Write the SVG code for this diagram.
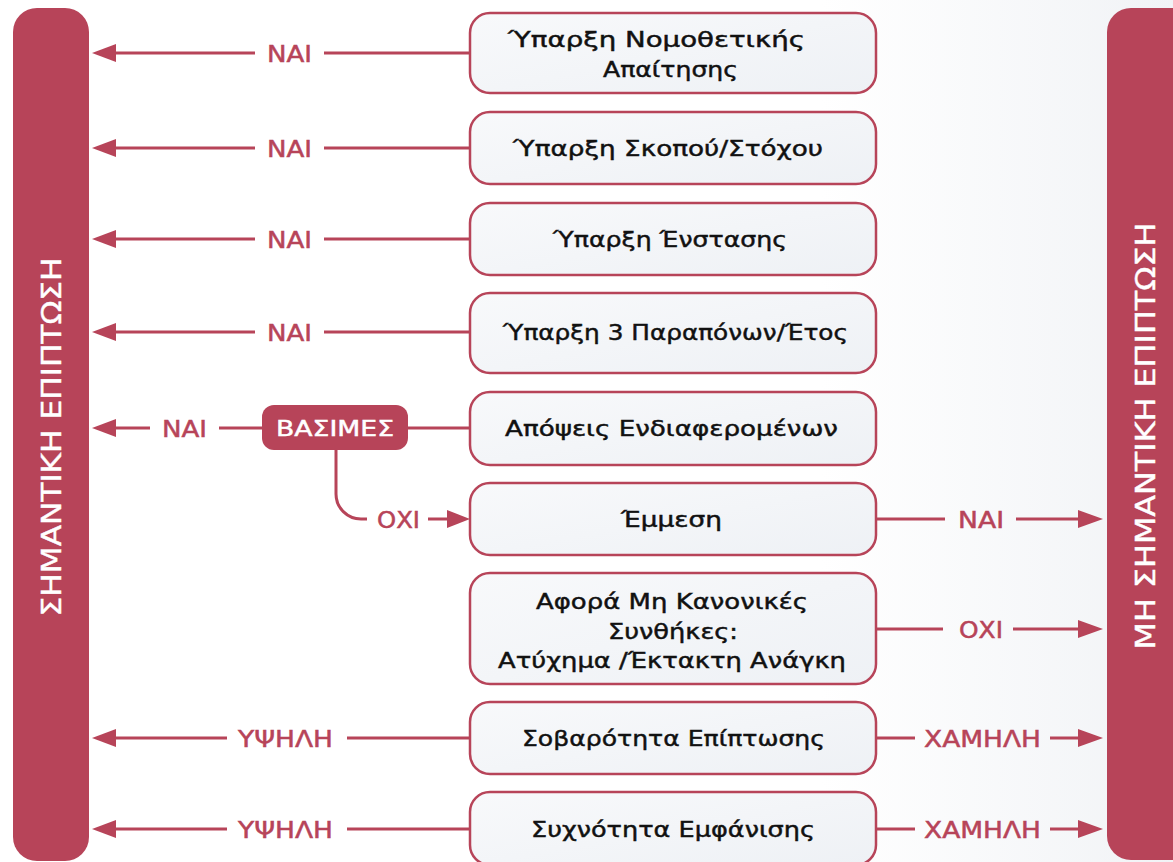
<svg xmlns="http://www.w3.org/2000/svg" width="1173" height="862" viewBox="0 0 1173 862">
  <defs>
    <linearGradient id="bg" x1="0" y1="0" x2="1" y2="0">
      <stop offset="0" stop-color="#ffffff"/>
      <stop offset="0.7" stop-color="#ffffff"/>
      <stop offset="1" stop-color="#f1f3f6"/>
    </linearGradient>
    <linearGradient id="boxfill" x1="0" y1="0" x2="1" y2="1">
      <stop offset="0" stop-color="#f8f9fb"/>
      <stop offset="1" stop-color="#eef1f5"/>
    </linearGradient>
    <style>
      .bar { fill: #b74459; }
      .box { fill: url(#boxfill); stroke: #b74459; stroke-width: 2.5; }
      .bt { font-family: "DejaVu Sans", "Noto Sans", sans-serif; font-size: 21px; fill: #111111; stroke: #111111; stroke-width: 0.45; text-anchor: middle; }
      .lbl { font-family: "DejaVu Sans", "Noto Sans", sans-serif; font-size: 23px; fill: #b74459; stroke: #b74459; stroke-width: 0.5; text-anchor: middle; }
      .vt { font-family: "DejaVu Sans", "Noto Sans", sans-serif; font-size: 26px; fill: #ffffff; stroke: #ffffff; stroke-width: 0.4; text-anchor: middle; }
      .ln { stroke: #b74459; stroke-width: 3; fill: none; }
      .ah { fill: #b74459; }
      .pill { fill: #b74459; }
      .pt { font-family: "DejaVu Sans", "Noto Sans", sans-serif; font-size: 22px; fill: #ffffff; stroke: #ffffff; stroke-width: 0.5; text-anchor: middle; }
    </style>
  </defs>
  <rect x="0" y="0" width="1173" height="862" fill="url(#bg)"/>

  <g id="bar-left">
    <rect class="bar" x="13" y="8" width="76" height="853" rx="24"/>
    <text class="vt" transform="translate(61,437) rotate(-90)" textLength="359" lengthAdjust="spacingAndGlyphs">ΣΗΜΑΝΤΙΚΗ ΕΠΙΠΤΩΣΗ</text>
  </g>
  <g id="bar-right">
    <rect class="bar" x="1107" y="8" width="90" height="852" rx="24"/>
    <text class="vt" transform="translate(1155,436) rotate(-90)" textLength="427" lengthAdjust="spacingAndGlyphs">ΜΗ ΣΗΜΑΝΤΙΚΗ ΕΠΙΠΤΩΣΗ</text>
  </g>

  <g id="connectors">
    <path class="ln" d="M116 53 H255 M324 53 H470"/>
    <polygon class="ah" points="92,53 116,44 116,62"/>
    <text class="lbl" x="289.5" y="61.5" textLength="45" lengthAdjust="spacingAndGlyphs">ΝΑΙ</text>
    <path class="ln" d="M116 148 H255 M324 148 H470"/>
    <polygon class="ah" points="92,148 116,139 116,157"/>
    <text class="lbl" x="289.5" y="156.5" textLength="45" lengthAdjust="spacingAndGlyphs">ΝΑΙ</text>
    <path class="ln" d="M116 239 H255 M324 239 H470"/>
    <polygon class="ah" points="92,239 116,230 116,248"/>
    <text class="lbl" x="289.5" y="247.5" textLength="45" lengthAdjust="spacingAndGlyphs">ΝΑΙ</text>
    <path class="ln" d="M116 332 H255 M324 332 H470"/>
    <polygon class="ah" points="92,332 116,323 116,341"/>
    <text class="lbl" x="289.5" y="340.5" textLength="45" lengthAdjust="spacingAndGlyphs">ΝΑΙ</text>
    <path class="ln" d="M115 428 H150 M219 428 H262 M408 428 H470"/>
    <polygon class="ah" points="92,428 116,419 116,437"/>
    <text class="lbl" x="184.5" y="436.5" textLength="45" lengthAdjust="spacingAndGlyphs">ΝΑΙ</text>
    <path class="ln" d="M336 450 V494 A25 25 0 0 0 361 519 H367 M428 519 H449"/>
    <polygon class="ah" points="470,519 447,510 447,528"/>
    <text class="lbl" x="398.5" y="527.5" textLength="43" lengthAdjust="spacingAndGlyphs">ΟΧΙ</text>
    <path class="ln" d="M876 519 H945 M1016 519 H1080"/>
    <polygon class="ah" points="1103,519 1078,510 1078,528"/>
    <text class="lbl" x="981" y="527.5" textLength="46" lengthAdjust="spacingAndGlyphs">ΝΑΙ</text>
    <path class="ln" d="M876 629 H943 M1013 629 H1080"/>
    <polygon class="ah" points="1103,629 1078,620 1078,638"/>
    <text class="lbl" x="981" y="637.5" textLength="44" lengthAdjust="spacingAndGlyphs">ΟΧΙ</text>
    <path class="ln" d="M116 738 H227 M347 738 H470"/>
    <polygon class="ah" points="92,738 116,729 116,747"/>
    <text class="lbl" x="285.5" y="746.5" textLength="95" lengthAdjust="spacingAndGlyphs">ΥΨΗΛΗ</text>
    <path class="ln" d="M876 738 H915 M1050 738 H1080"/>
    <polygon class="ah" points="1103,738 1078,729 1078,747"/>
    <text class="lbl" x="982.5" y="746.5" textLength="117" lengthAdjust="spacingAndGlyphs">ΧΑΜΗΛΗ</text>
    <path class="ln" d="M116 829 H227 M347 829 H470"/>
    <polygon class="ah" points="92,829 116,820 116,838"/>
    <text class="lbl" x="285.5" y="837.5" textLength="95" lengthAdjust="spacingAndGlyphs">ΥΨΗΛΗ</text>
    <path class="ln" d="M876 829 H915 M1050 829 H1080"/>
    <polygon class="ah" points="1103,829 1078,820 1078,838"/>
    <text class="lbl" x="982.5" y="837.5" textLength="117" lengthAdjust="spacingAndGlyphs">ΧΑΜΗΛΗ</text>
  </g>

  <g id="node-basimes">
    <rect class="pill" x="262" y="405" width="146" height="45" rx="12"/>
    <text class="pt" x="335" y="436" textLength="118" lengthAdjust="spacingAndGlyphs">ΒΑΣΙΜΕΣ</text>
  </g>

  <g id="node-1">
    <rect class="box" x="470" y="13" width="406" height="80" rx="20"/>
    <text class="bt" x="656.5" y="47" textLength="297" lengthAdjust="spacingAndGlyphs">Ύπαρξη Νομοθετικής</text>
    <text class="bt" x="670.5" y="77" textLength="135" lengthAdjust="spacingAndGlyphs">Απαίτησης</text>
  </g>
  <g id="node-2">
    <rect class="box" x="470" y="112" width="406" height="72" rx="20"/>
    <text class="bt" x="668" y="156" textLength="310" lengthAdjust="spacingAndGlyphs">Ύπαρξη Σκοπού/Στόχου</text>
  </g>
  <g id="node-3">
    <rect class="box" x="470" y="203" width="406" height="72" rx="20"/>
    <text class="bt" x="670" y="247" textLength="234" lengthAdjust="spacingAndGlyphs">Ύπαρξη Ένστασης</text>
  </g>
  <g id="node-4">
    <rect class="box" x="470" y="293" width="406" height="80" rx="20"/>
    <text class="bt" x="675.5" y="340" textLength="345" lengthAdjust="spacingAndGlyphs">Ύπαρξη 3 Παραπόνων/Έτος</text>
  </g>
  <g id="node-5">
    <rect class="box" x="470" y="392" width="406" height="73" rx="20"/>
    <text class="bt" x="671.5" y="436" textLength="333" lengthAdjust="spacingAndGlyphs">Απόψεις Ενδιαφερομένων</text>
  </g>
  <g id="node-6">
    <rect class="box" x="470" y="483" width="406" height="72" rx="20"/>
    <text class="bt" x="671.5" y="527" textLength="101" lengthAdjust="spacingAndGlyphs">Έμμεση</text>
  </g>
  <g id="node-7">
    <rect class="box" x="470" y="573" width="406" height="111" rx="20"/>
    <text class="bt" x="672" y="609" textLength="272" lengthAdjust="spacingAndGlyphs">Αφορά Μη Κανονικές</text>
    <text class="bt" x="673" y="639" textLength="130" lengthAdjust="spacingAndGlyphs">Συνθήκες:</text>
    <text class="bt" x="672" y="668" textLength="348" lengthAdjust="spacingAndGlyphs">Ατύχημα /Έκτακτη Ανάγκη</text>
  </g>
  <g id="node-8">
    <rect class="box" x="470" y="702" width="406" height="72" rx="20"/>
    <text class="bt" x="673.5" y="746" textLength="303" lengthAdjust="spacingAndGlyphs">Σοβαρότητα Επίπτωσης</text>
  </g>
  <g id="node-9">
    <rect class="box" x="470" y="792" width="406" height="73" rx="20"/>
    <text class="bt" x="673" y="837" textLength="284" lengthAdjust="spacingAndGlyphs">Συχνότητα Εμφάνισης</text>
  </g>
</svg>
